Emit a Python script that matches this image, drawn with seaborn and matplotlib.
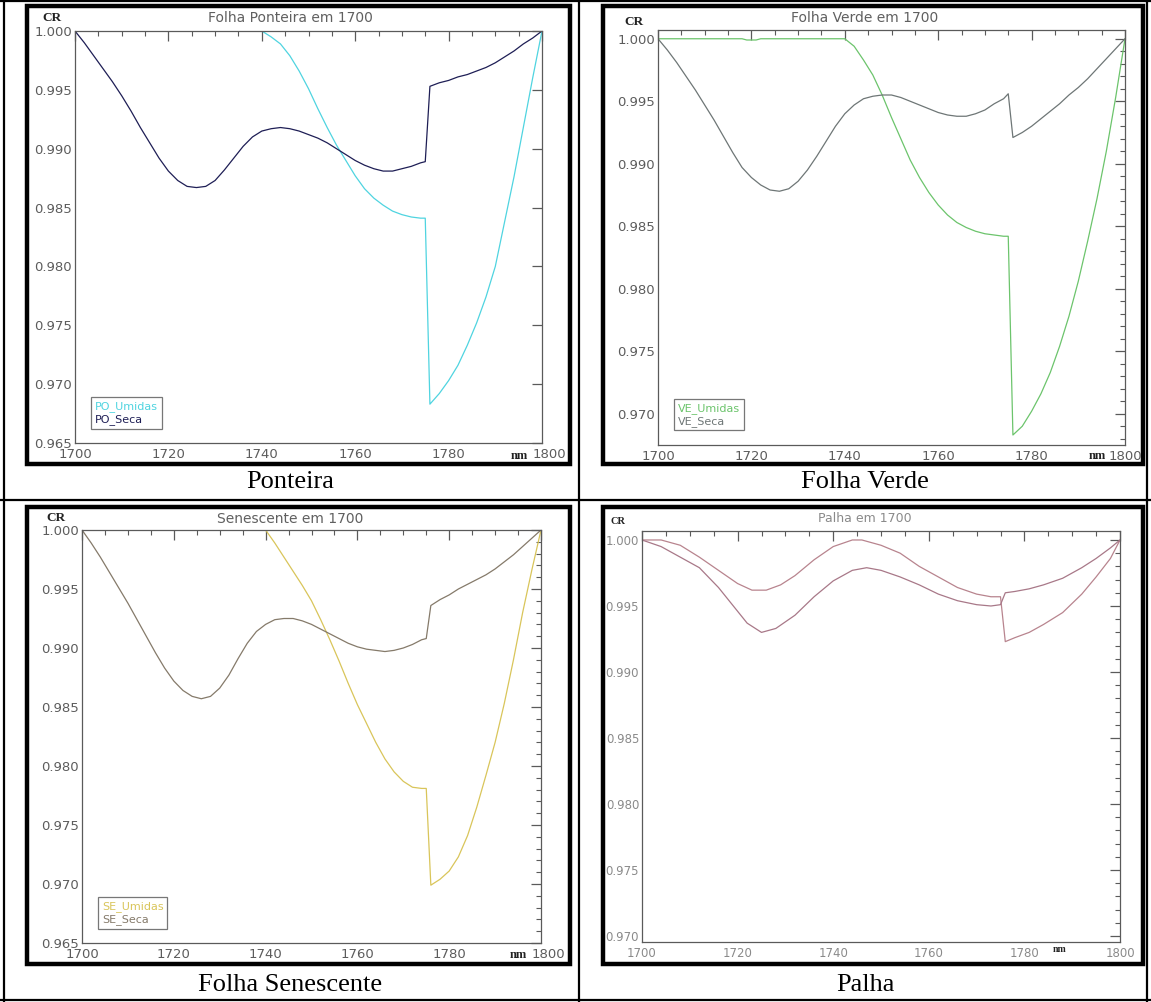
import numpy as np
import pandas as pd
import matplotlib
matplotlib.use("Agg")
import matplotlib.pyplot as plt
import matplotlib.transforms as mtransforms
import seaborn as sns
from matplotlib.lines import Line2D
from matplotlib.patches import Rectangle
from matplotlib.ticker import MultipleLocator, FormatStrFormatter

# ---------------- DATA ----------------
# Ponteira
po_umidas_nm = [1700, 1720, 1740, 1742, 1744, 1746, 1748, 1750, 1752, 1754, 1756, 1758, 1760, 1762, 1764,
                1766, 1768, 1770, 1772, 1774, 1775, 1776, 1778, 1780, 1782, 1784, 1786, 1788, 1790,
                1792, 1794, 1796, 1798, 1800]
po_umidas = [1.0, 1.0, 1.0, 0.9995, 0.9989, 0.9979, 0.9966, 0.9951, 0.9934, 0.9918, 0.9903, 0.9890, 0.9877,
             0.9866, 0.9858, 0.9852, 0.9847, 0.9844, 0.9842, 0.9841, 0.9841, 0.9683, 0.9692, 0.9703,
             0.9716, 0.9733, 0.9752, 0.9774, 0.9800, 0.9838, 0.9876, 0.9918, 0.9960, 1.0]
po_seca_nm = [1700, 1702, 1704, 1706, 1708, 1710, 1712, 1714, 1716, 1718, 1720, 1722, 1724, 1726, 1728,
              1730, 1732, 1734, 1736, 1738, 1740, 1742, 1744, 1746, 1748, 1750, 1752, 1754, 1756, 1758,
              1760, 1762, 1764, 1766, 1768, 1770, 1772, 1774, 1775, 1776, 1778, 1780, 1782, 1784, 1786,
              1788, 1790, 1792, 1794, 1796, 1798, 1800]
po_seca = [1.0, 0.9990, 0.9979, 0.9968, 0.9957, 0.9945, 0.9932, 0.9918, 0.9905, 0.9892, 0.9881, 0.9873,
           0.9868, 0.9867, 0.9868, 0.9873, 0.9882, 0.9892, 0.9902, 0.9910, 0.9915, 0.9917, 0.9918, 0.9917,
           0.9915, 0.9912, 0.9909, 0.9905, 0.9900, 0.9895, 0.9890, 0.9886, 0.9883, 0.9881, 0.9881, 0.9883,
           0.9885, 0.9888, 0.9889, 0.9953, 0.9956, 0.9958, 0.9961, 0.9963, 0.9966, 0.9969, 0.9973, 0.9978,
           0.9983, 0.9989, 0.9994, 1.0]

# Folha Verde
ve_umidas_nm = [1700, 1718, 1719, 1721, 1722, 1740, 1742, 1744, 1746, 1748, 1750, 1752, 1754, 1756, 1758,
                1760, 1762, 1764, 1766, 1768, 1770, 1772, 1774, 1775, 1776, 1778, 1780, 1782, 1784, 1786,
                1788, 1790, 1792, 1794, 1796, 1798, 1800]
ve_umidas = [1.0, 1.0, 0.9999, 0.9999, 1.0, 1.0, 0.9994, 0.9983, 0.9971, 0.9955, 0.9937, 0.9920, 0.9903,
             0.9889, 0.9877, 0.9867, 0.9859, 0.9853, 0.9849, 0.9846, 0.9844, 0.9843, 0.9842, 0.9842,
             0.9683, 0.9690, 0.9702, 0.9716, 0.9733, 0.9754, 0.9778, 0.9806, 0.9838, 0.9872, 0.9910,
             0.9953, 1.0]
ve_seca_nm = [1700, 1702, 1704, 1706, 1708, 1710, 1712, 1714, 1716, 1718, 1720, 1722, 1724, 1726, 1728,
              1730, 1732, 1734, 1736, 1738, 1740, 1742, 1744, 1746, 1748, 1750, 1752, 1754, 1756, 1758,
              1760, 1762, 1764, 1766, 1768, 1770, 1772, 1774, 1775, 1776, 1778, 1780, 1782, 1784, 1786,
              1788, 1790, 1792, 1794, 1796, 1798, 1800]
ve_seca = [1.0, 0.9991, 0.9981, 0.9970, 0.9959, 0.9947, 0.9935, 0.9922, 0.9909, 0.9897, 0.9889, 0.9883,
           0.9879, 0.9878, 0.9880, 0.9886, 0.9895, 0.9906, 0.9918, 0.9930, 0.9940, 0.9947, 0.9952, 0.9954,
           0.9955, 0.9955, 0.9953, 0.9950, 0.9947, 0.9944, 0.9941, 0.9939, 0.9938, 0.9938, 0.9940, 0.9943,
           0.9948, 0.9952, 0.9956, 0.9921, 0.9925, 0.9930, 0.9936, 0.9942, 0.9948, 0.9955, 0.9961, 0.9968,
           0.9976, 0.9984, 0.9992, 1.0]

# Folha Senescente
se_umidas_nm = [1700, 1740, 1742, 1744, 1746, 1748, 1750, 1752, 1754, 1756, 1758, 1760, 1762, 1764, 1766,
                1768, 1770, 1772, 1774, 1775, 1776, 1778, 1780, 1782, 1784, 1786, 1788, 1790, 1792, 1794,
                1796, 1798, 1800]
se_umidas = [1.0, 1.0, 0.9989, 0.9977, 0.9965, 0.9953, 0.9940, 0.9924, 0.9907, 0.9889, 0.9870, 0.9852,
             0.9836, 0.9820, 0.9806, 0.9795, 0.9787, 0.9782, 0.9781, 0.9781, 0.9699, 0.9704, 0.9711,
             0.9723, 0.9741, 0.9765, 0.9792, 0.9820, 0.9853, 0.9890, 0.9930, 0.9966, 1.0]
se_seca_nm = [1700, 1702, 1704, 1706, 1708, 1710, 1712, 1714, 1716, 1718, 1720, 1722, 1724, 1726, 1728,
              1730, 1732, 1734, 1736, 1738, 1740, 1742, 1744, 1746, 1748, 1750, 1752, 1754, 1756, 1758,
              1760, 1762, 1764, 1766, 1768, 1770, 1772, 1774, 1775, 1776, 1778, 1780, 1782, 1784, 1786,
              1788, 1790, 1792, 1794, 1796, 1798, 1800]
se_seca = [1.0, 0.9989, 0.9977, 0.9964, 0.9951, 0.9938, 0.9924, 0.9910, 0.9896, 0.9883, 0.9872, 0.9864,
           0.9859, 0.9857, 0.9859, 0.9866, 0.9877, 0.9891, 0.9904, 0.9914, 0.9920, 0.9924, 0.9925, 0.9925,
           0.9923, 0.9920, 0.9916, 0.9912, 0.9908, 0.9904, 0.9901, 0.9899, 0.9898, 0.9897, 0.9898, 0.9900,
           0.9903, 0.9907, 0.9908, 0.9936, 0.9941, 0.9945, 0.9950, 0.9954, 0.9958, 0.9962, 0.9967, 0.9973,
           0.9979, 0.9986, 0.9993, 1.0]

# Palha
pa_umidas_nm = [1700, 1704, 1708, 1712, 1716, 1720, 1723, 1726, 1729, 1732, 1736, 1740, 1744, 1746, 1750,
                1754, 1758, 1762, 1766, 1770, 1773, 1775, 1776, 1778, 1781, 1784, 1788, 1792, 1795,
                1798, 1800]
pa_umidas = [1.0, 1.0, 0.9996, 0.9987, 0.9977, 0.9967, 0.9962, 0.9962, 0.9966, 0.9973, 0.9985, 0.9995,
             1.0, 1.0, 0.9996, 0.9990, 0.9980, 0.9972, 0.9964, 0.9959, 0.9957, 0.9957, 0.9923, 0.9926,
             0.9930, 0.9936, 0.9945, 0.9959, 0.9972, 0.9986, 1.0]
pa_seca_nm = [1700, 1704, 1708, 1712, 1716, 1720, 1722, 1725, 1728, 1732, 1736, 1740, 1744, 1747, 1750,
              1754, 1758, 1762, 1766, 1770, 1773, 1775, 1776, 1778, 1781, 1784, 1788, 1792, 1795, 1798,
              1800]
pa_seca = [1.0, 0.9995, 0.9987, 0.9979, 0.9964, 0.9946, 0.9937, 0.9930, 0.9933, 0.9943, 0.9957, 0.9969,
           0.9977, 0.9979, 0.9977, 0.9972, 0.9966, 0.9959, 0.9954, 0.9951, 0.9950, 0.9951, 0.9960, 0.9961,
           0.9963, 0.9966, 0.9971, 0.9979, 0.9986, 0.9994, 1.0]

titles = ["Folha Ponteira em 1700", "Folha Verde em 1700", "Senescente em 1700", "Palha em 1700"]
captions = ["Ponteira", "Folha Verde", "Folha Senescente", "Palha"]
legend_labels = [["PO_Umidas", "PO_Seca"], ["VE_Umidas", "VE_Seca"], ["SE_Umidas", "SE_Seca"], None]
x_ticks = [1700, 1720, 1740, 1760, 1780, 1800]

# ---------------- STYLE ----------------
sns.set_theme(style="white")
plt.rcParams["font.family"] = ["DejaVu Sans"]

W, H = 1151, 1002
fig = plt.figure(figsize=(W / 100, H / 100), dpi=100)
fig.patch.set_facecolor("white")


def frac(x0, y0, x1, y1):
    return [x0 / W, 1 - y1 / H, (x1 - x0) / W, (y1 - y0) / H]


# table lines
tbl = dict(color="black", lw=1.6, transform=fig.transFigure, zorder=0)
for xs, ys in [([4 / W, 4 / W], [0, 1]), ([1147 / W, 1147 / W], [0, 1]), ([579 / W, 579 / W], [0, 1]),
               ([0, 1], [1 - 1 / H, 1 - 1 / H]), ([0, 1], [1 - 500 / H, 1 - 500 / H]),
               ([0, 1], [1 - 1000 / H, 1 - 1000 / H])]:
    fig.add_artist(Line2D(xs, ys, **tbl))

panels = [
    dict(ax=(75, 31, 542, 443), ylim=(0.965, 1.000), frame=(27, 6, 570, 464), yminor=False,
         series=[(po_umidas_nm, po_umidas, "#4fd4e0"), (po_seca_nm, po_seca, "#1e1e55")],
         cap=(290, 482), title=(290, 18), cr=(52, 18), nm=(519, 456), shift=7),
    dict(ax=(658, 30, 1125, 445), ylim=(0.9675, 1.0007), frame=(603, 6, 1143, 464), yminor=True,
         series=[(ve_umidas_nm, ve_umidas, "#6cc46c"), (ve_seca_nm, ve_seca, "#6e7676")],
         cap=(865, 482), title=(865, 18), cr=(634, 22), nm=(1097, 456), shift=0),
    dict(ax=(82, 530, 541, 943), ylim=(0.965, 1.000), frame=(27, 507, 570, 964), yminor=True,
         series=[(se_umidas_nm, se_umidas, "#d9c55a"), (se_seca_nm, se_seca, "#857a6a")],
         cap=(290, 985), title=(290, 519), cr=(56, 518), nm=(518, 955), shift=7),
    dict(ax=(642, 531, 1120, 942), ylim=(0.96955, 1.00068), frame=(603, 507, 1143, 964), yminor=True,
         series=[(pa_umidas_nm, pa_umidas, "#b8848e"), (pa_seca_nm, pa_seca, "#a87888")],
         cap=(865, 985), title=(865, 519), cr=(618, 521), nm=(1060, 950), shift=0),
]

tick_col = "#5a5a5a"
for i, p in enumerate(panels):
    # black frame
    fx0, fy0, fx1, fy1 = p["frame"]
    fig.add_artist(Rectangle((fx0 / W, 1 - fy1 / H), (fx1 - fx0) / W, (fy1 - fy0) / H,
                             transform=fig.transFigure, fill=False, edgecolor="black", lw=3.2, zorder=0))
    ax = fig.add_axes(frac(*p["ax"]))
    ax.set_facecolor("white")
    rows = []
    labels = legend_labels[i] if legend_labels[i] else ["Umidas", "Seca"]
    pal = {}
    for (xs, ys, col), lab in zip(p["series"], labels):
        for xv, yv in zip(xs, ys):
            rows.append((xv, yv, lab))
        pal[lab] = col
    df = pd.DataFrame(rows, columns=["nm", "CR", "serie"])
    sns.lineplot(data=df, x="nm", y="CR", hue="serie", palette=pal, ax=ax, legend=False,
                 estimator=None, sort=False, lw=0.9)
    ax.set_xlim(1700, 1800)
    ax.set_ylim(*p["ylim"])
    ax.set_xlabel("")
    ax.set_ylabel("")
    ax.set_xticks(x_ticks)
    ax.xaxis.set_minor_locator(MultipleLocator(5))
    ax.yaxis.set_major_locator(MultipleLocator(0.005))
    if p["yminor"]:
        ax.yaxis.set_minor_locator(MultipleLocator(0.001))
    ax.yaxis.set_major_formatter(FormatStrFormatter("%.3f"))
    lab_col = "#5c5c5c" if i < 3 else "#8a8a8a"
    fs = 9.5 if i < 3 else 8.5
    ax.tick_params(which="both", direction="in", top=True, right=True, colors=tick_col,
                   labelcolor=lab_col, labelsize=fs)
    ax.tick_params(which="major", length=7, width=0.9)
    ax.tick_params(axis="x", which="major", pad=3.5)
    ax.tick_params(axis="y", which="major", pad=2)
    ax.tick_params(which="minor", length=3.5, width=0.8)
    for s in ax.spines.values():
        s.set_color(tick_col)
        s.set_linewidth(0.9)
        s.set_zorder(3)
    ax.set_xticklabels([str(t) for t in x_ticks])
    fig.canvas.draw()
    # nudge the last x label right (after "nm") and the lowest y label slightly up
    if p["shift"]:
        xl = ax.get_xticklabels()[-1]
        xl.set_transform(xl.get_transform() +
                         mtransforms.ScaledTranslation(p["shift"] / 100, 0, fig.dpi_scale_trans))
    ylab = [t for t in ax.get_yticklabels()]
    if ylab:
        yl = ylab[0]
        yl.set_transform(yl.get_transform() + mtransforms.ScaledTranslation(0, 2 / 100, fig.dpi_scale_trans))
    ax.grid(False)

    # legend
    if legend_labels[i]:
        handles = [Line2D([], [], lw=0, color=c) for (_, _, c) in p["series"]]
        leg = ax.legend(handles, legend_labels[i], loc="lower left", bbox_to_anchor=(0.035, 0.035),
                        handlelength=0, handletextpad=0, fontsize=8, frameon=True, fancybox=False,
                        borderpad=0.35, labelspacing=0.15, borderaxespad=0)
        leg.get_frame().set_edgecolor("#555555")
        leg.get_frame().set_linewidth(0.9)
        for t, (_, _, c) in zip(leg.get_texts(), p["series"]):
            t.set_color(c)

    tx, ty = p["title"]
    fig.text(tx / W, 1 - ty / H, titles[i], ha="center", va="center", fontsize=10 if i < 3 else 9,
             color="#606060" if i < 3 else "#8a8a8a")
    cx, cy = p["cr"]
    fig.text(cx / W, 1 - cy / H, "CR", ha="center", va="center", fontsize=9.5 if i < 3 else 7.5,
             fontweight="bold", family=["Liberation Serif"], color="#222222")
    nx, ny = p["nm"]
    fig.text(nx / W, 1 - ny / H, "nm", ha="center", va="center", fontsize=9 if i < 3 else 7,
             fontweight="bold", family=["Liberation Serif"], color="#222222")
    kx, ky = p["cap"]
    fig.text(kx / W, 1 - ky / H, captions[i], ha="center", va="center", fontsize=19,
             family=["Liberation Serif"], color="black")

fig.savefig("out.png", dpi=100, facecolor="white")
